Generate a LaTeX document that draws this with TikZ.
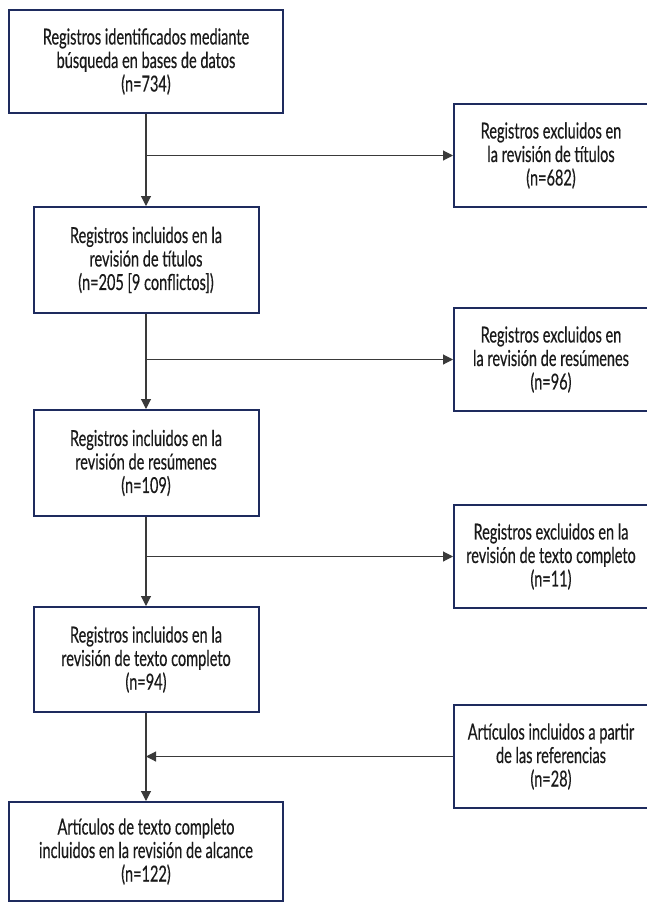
\documentclass[tikz,border=0pt]{standalone}
\usepackage{fontspec}
\setmainfont{Lato}[FakeStretch=0.66,FakeBold=0.4]
\usetikzlibrary{arrows.meta}
\definecolor{navy}{HTML}{1E2B5E}
\definecolor{txt}{HTML}{1A1A1A}
\definecolor{ln}{HTML}{3A3A3A}
\tikzset{
  box/.style={draw=navy, line width=2pt, fill=white, align=center, inner sep=0pt,
    text=txt, font=\fontsize{22}{23.5}\selectfont},
  flow/.style={draw=ln, line width=1.1pt, -{Triangle[length=10pt,width=10pt]}}
}
\begin{document}
\begin{tikzpicture}[x=1pt,y=-1pt]
\useasboundingbox[fill=white] (0,0) rectangle (646,903);
% main column
\node[box, minimum width=274pt, minimum height=103pt] (B1) at (146,61.5)
  {Registros identificados mediante\\ búsqueda en bases de datos\\ (n=734)};
\node[box, minimum width=225pt, minimum height=106pt] (B2) at (146,260)
  {Registros incluidos en la\\ revisión de títulos\\ (n=205 [9 conflictos])};
\node[box, minimum width=225pt, minimum height=106pt] (B3) at (146,463)
  {Registros incluidos en la\\ revisión de resúmenes\\ (n=109)};
\node[box, minimum width=225pt, minimum height=105pt] (B4) at (146,659.5)
  {Registros incluidos en la\\ revisión de texto completo\\ (n=94)};
\node[box, minimum width=274pt, minimum height=99pt] (B5) at (146,851.5)
  {Artículos de texto completo\\ incluidos en la revisión de alcance\\ (n=122)};
% right column
\node[box, minimum width=194pt, minimum height=103pt] (R1) at (551,155.5)
  {Registros excluidos en\\ la revisión de títulos\\ (n=682)};
\node[box, minimum width=194pt, minimum height=103pt] (R2) at (551,359.5)
  {Registros excluidos en\\ la revisión de resúmenes\\ (n=96)};
\node[box, minimum width=194pt, minimum height=103pt] (R3) at (551,556.5)
  {Registros excluidos en la\\ revisión de texto completo\\ (n=11)};
\node[box, minimum width=194pt, minimum height=103pt] (R4) at (551,756.5)
  {Artículos incluidos a partir\\ de las referencias\\ (n=28)};
% connectors
\draw[flow] (B1.south) -- (B2.north);
\draw[flow] (B2.south) -- (B3.north);
\draw[flow] (B3.south) -- (B4.north);
\draw[flow] (B4.south) -- (B5.north);
\draw[flow] (B1.south |- R1.west) -- (R1.west);
\draw[flow] (B2.south |- R2.west) -- (R2.west);
\draw[flow] (B3.south |- R3.west) -- (R3.west);
\draw[flow] (R4.west) -- (B4.south |- R4.west);
\end{tikzpicture}
\end{document}
